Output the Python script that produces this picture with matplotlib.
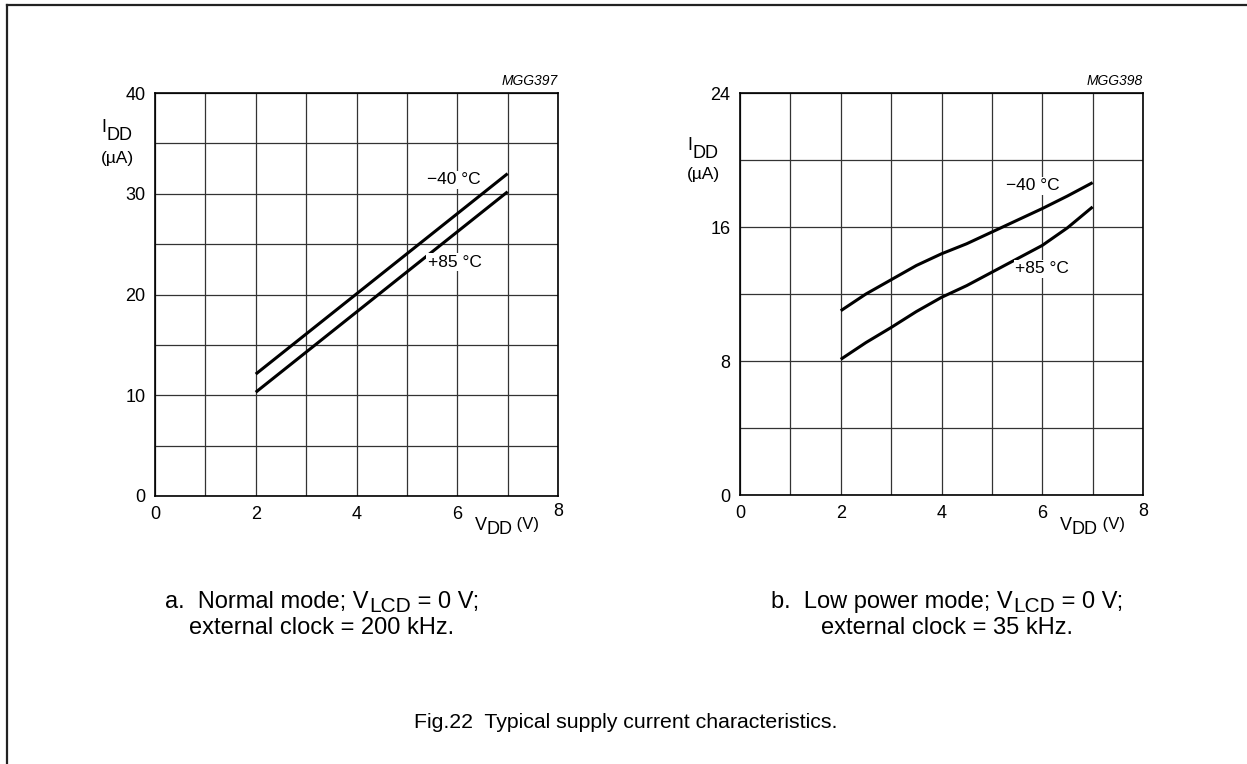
import matplotlib
matplotlib.use('Agg')
import matplotlib.pyplot as plt
from matplotlib.lines import Line2D

plt.rcParams['font.family'] = ['Liberation Sans', 'DejaVu Sans']

# data
# a. normal mode (straight lines)
vdd_a = [2, 7]
idd_a_m40 = [12.1, 32.0]
idd_a_p85 = [10.3, 30.2]

# b. low power mode
vdd_b = [2, 2.5, 3, 3.5, 4, 4.5, 5, 5.5, 6, 6.5, 7]
idd_b_m40 = [11.0, 12.0, 12.85, 13.7, 14.4, 15.0, 15.7, 16.4, 17.1, 17.85, 18.65]
idd_b_p85 = [8.1, 9.1, 10.0, 10.95, 11.8, 12.5, 13.3, 14.1, 14.9, 15.95, 17.2]

W, H = 1247, 764
fig = plt.figure(figsize=(W / 100, H / 100), dpi=100)
renderer = fig.canvas.get_renderer()

# page border (left and top only)
fig.add_artist(Line2D([7 / W, 7 / W], [0, 1 - 5 / H], color='#222', lw=1.6))
fig.add_artist(Line2D([7 / W, 1], [1 - 5 / H, 1 - 5 / H], color='#222', lw=1.6))


def pieces(xc, yc, parts):
    # parts: list of (text, fontsize, drop in px); centred at pixel (xc, yc)
    widths = []
    for s, fs, dy in parts:
        t = fig.text(0, 0, s, fontsize=fs)
        widths.append(t.get_window_extent(renderer).width)
        t.remove()
    x = xc - sum(widths) / 2
    for (s, fs, dy), w in zip(parts, widths):
        fig.text(x / W, 1 - (yc + dy) / H, s, fontsize=fs, ha='left', va='center')
        x += w


def setup(ax, ymax, ystep, ylabels, code):
    ax.set_xlim(0, 8)
    ax.set_ylim(0, ymax)
    ax.set_xticks(range(0, 9), minor=True)
    ax.set_xticks([0, 2, 4, 6, 8])
    ax.set_yticks(range(0, ymax + 1, ystep), minor=True)
    ax.set_yticks(ylabels)
    ax.grid(True, which='both', color='#333', lw=0.9)
    ax.tick_params(which='both', length=0, labelsize=13, pad=7)
    ax.set_xticklabels(['0', '2', '4', '6', ''])
    for s in ax.spines.values():
        s.set_linewidth(1.2)
    ax.text(1.0, 1.012, code, transform=ax.transAxes, ha='right', va='bottom',
            fontsize=10, style='italic')


lbl = dict(ha='center', va='center', fontsize=12.5,
           bbox=dict(facecolor='white', edgecolor='none', pad=1))

# left chart
ax1 = fig.add_axes([155 / W, 1 - 496 / H, 403 / W, 403 / H])
setup(ax1, 40, 5, [0, 10, 20, 30, 40], 'MGG397')
ax1.plot(vdd_a, idd_a_m40, color='black', lw=2.2, solid_capstyle='butt')
ax1.plot(vdd_a, idd_a_p85, color='black', lw=2.2, solid_capstyle='butt')
ax1.text(5.93, 31.4, '\u221240 \u00b0C', **lbl)
ax1.text(5.95, 23.2, '+85 \u00b0C', **lbl)

# right chart
ax2 = fig.add_axes([740 / W, 1 - 495 / H, 403 / W, 402 / H])
setup(ax2, 24, 4, [0, 8, 16, 24], 'MGG398')
ax2.plot(vdd_b, idd_b_m40, color='black', lw=2.2, solid_capstyle='butt')
ax2.plot(vdd_b, idd_b_p85, color='black', lw=2.2, solid_capstyle='butt')
ax2.text(5.81, 18.45, '\u221240 \u00b0C', **lbl)
ax2.text(6.0, 13.5, '+85 \u00b0C', **lbl)

# axis labels, x tick "8" and V_DD placed by hand like the datasheet
for x0, iy, uy in [(117, 128, 158), (703, 146, 174)]:
    pieces(x0, iy, [('I', 13, 0), ('DD', 13, 7)])
    fig.text(x0 / W, 1 - uy / H, '(\u00b5A)', ha='center', va='center', fontsize=12.5)
for x0 in [558, 1143]:
    fig.text(x0 / W, 1 - 512 / H, '8', ha='center', va='center', fontsize=13)
    pieces(x0 - 51, 525, [('V', 13, 0), ('DD', 13, 5), (' (V)', 12, -1)])

# captions
pieces(322, 602, [('a.  Normal mode; V', 17, 0), ('LCD', 15, 4), (' = 0 V;', 17, 0)])
pieces(322, 628, [('external clock = 200 kHz.', 17, 0)])
pieces(947, 602, [('b.  Low power mode; V', 17, 0), ('LCD', 15, 4), (' = 0 V;', 17, 0)])
pieces(947, 628, [('external clock = 35 kHz.', 17, 0)])
pieces(626, 723, [('Fig.22  Typical supply current characteristics.', 15.3, 0)])

fig.savefig('out.png', dpi=100)
